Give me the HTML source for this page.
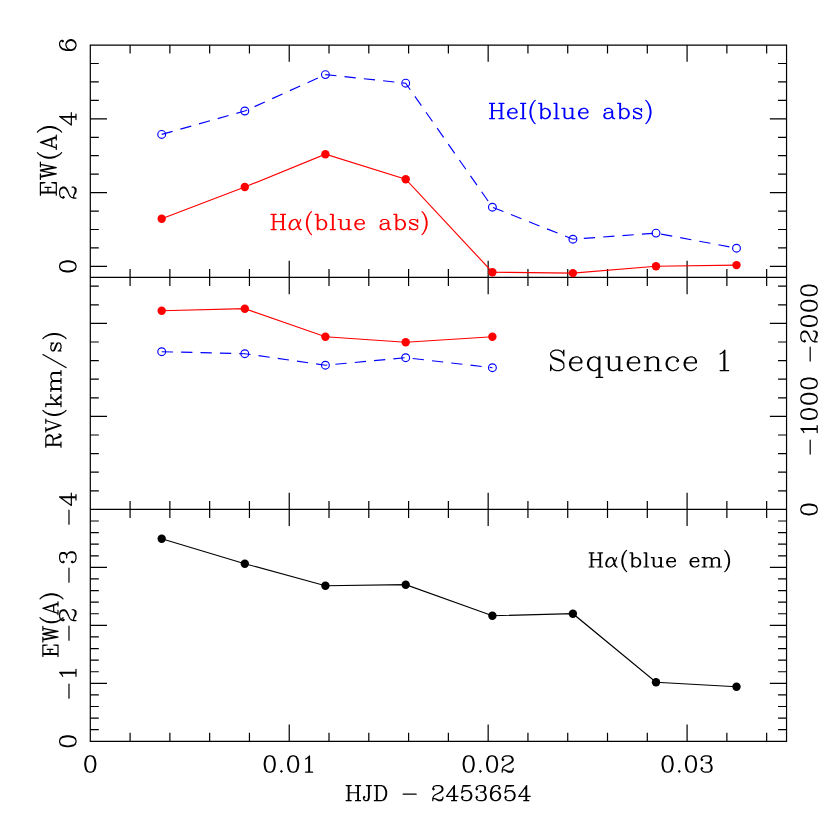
<!DOCTYPE html>
<html><head><meta charset="utf-8"><title>Sequence 1</title>
<style>html,body{margin:0;padding:0;background:#fff;font-family:"Liberation Serif",serif}svg{display:block}</style>
</head><body>
<svg width="830" height="830" viewBox="0 0 830 830">
<rect width="830" height="830" fill="#fff"/>
<path d="M90.30 45.05H786.55V741.30H90.30ZM90.30 277.45H786.55M90.30 509.40H786.55M130.09 45.05v8.50M130.09 268.95v17.00M130.09 500.90v17.00M130.09 741.30v-8.50M169.87 45.05v8.50M169.87 268.95v17.00M169.87 500.90v17.00M169.87 741.30v-8.50M209.66 45.05v8.50M209.66 268.95v17.00M209.66 500.90v17.00M209.66 741.30v-8.50M249.44 45.05v8.50M249.44 268.95v17.00M249.44 500.90v17.00M249.44 741.30v-8.50M289.23 45.05v16.70M289.23 260.75v33.40M289.23 492.70v33.40M289.23 741.30v-16.70M329.01 45.05v8.50M329.01 268.95v17.00M329.01 500.90v17.00M329.01 741.30v-8.50M368.80 45.05v8.50M368.80 268.95v17.00M368.80 500.90v17.00M368.80 741.30v-8.50M408.59 45.05v8.50M408.59 268.95v17.00M408.59 500.90v17.00M408.59 741.30v-8.50M448.37 45.05v8.50M448.37 268.95v17.00M448.37 500.90v17.00M448.37 741.30v-8.50M488.16 45.05v16.70M488.16 260.75v33.40M488.16 492.70v33.40M488.16 741.30v-16.70M527.94 45.05v8.50M527.94 268.95v17.00M527.94 500.90v17.00M527.94 741.30v-8.50M567.73 45.05v8.50M567.73 268.95v17.00M567.73 500.90v17.00M567.73 741.30v-8.50M607.51 45.05v8.50M607.51 268.95v17.00M607.51 500.90v17.00M607.51 741.30v-8.50M647.30 45.05v8.50M647.30 268.95v17.00M647.30 500.90v17.00M647.30 741.30v-8.50M687.09 45.05v16.70M687.09 260.75v33.40M687.09 492.70v33.40M687.09 741.30v-16.70M726.87 45.05v8.50M726.87 268.95v17.00M726.87 500.90v17.00M726.87 741.30v-8.50M766.66 45.05v8.50M766.66 268.95v17.00M766.66 500.90v17.00M766.66 741.30v-8.50M90.30 266.40h16.70M786.55 266.40h-16.70M90.30 247.95h8.50M786.55 247.95h-8.50M90.30 229.51h8.50M786.55 229.51h-8.50M90.30 211.06h8.50M786.55 211.06h-8.50M90.30 192.62h16.70M786.55 192.62h-16.70M90.30 174.17h8.50M786.55 174.17h-8.50M90.30 155.72h8.50M786.55 155.72h-8.50M90.30 137.28h8.50M786.55 137.28h-8.50M90.30 118.83h16.70M786.55 118.83h-16.70M90.30 100.39h8.50M786.55 100.39h-8.50M90.30 81.94h8.50M786.55 81.94h-8.50M90.30 63.50h8.50M786.55 63.50h-8.50M90.30 490.80h8.50M786.55 490.80h-8.50M90.30 472.20h8.50M786.55 472.20h-8.50M90.30 453.60h8.50M786.55 453.60h-8.50M90.30 435.00h8.50M786.55 435.00h-8.50M90.30 416.40h16.70M786.55 416.40h-16.70M90.30 397.80h8.50M786.55 397.80h-8.50M90.30 379.20h8.50M786.55 379.20h-8.50M90.30 360.60h8.50M786.55 360.60h-8.50M90.30 342.00h8.50M786.55 342.00h-8.50M90.30 323.40h16.70M786.55 323.40h-16.70M90.30 304.80h8.50M786.55 304.80h-8.50M90.30 286.20h8.50M786.55 286.20h-8.50M90.30 729.70h8.50M786.55 729.70h-8.50M90.30 718.11h8.50M786.55 718.11h-8.50M90.30 706.51h8.50M786.55 706.51h-8.50M90.30 694.92h8.50M786.55 694.92h-8.50M90.30 683.32h16.70M786.55 683.32h-16.70M90.30 671.73h8.50M786.55 671.73h-8.50M90.30 660.13h8.50M786.55 660.13h-8.50M90.30 648.54h8.50M786.55 648.54h-8.50M90.30 636.94h8.50M786.55 636.94h-8.50M90.30 625.35h16.70M786.55 625.35h-16.70M90.30 613.75h8.50M786.55 613.75h-8.50M90.30 602.16h8.50M786.55 602.16h-8.50M90.30 590.56h8.50M786.55 590.56h-8.50M90.30 578.97h8.50M786.55 578.97h-8.50M90.30 567.38h16.70M786.55 567.38h-16.70M90.30 555.78h8.50M786.55 555.78h-8.50M90.30 544.18h8.50M786.55 544.18h-8.50M90.30 532.59h8.50M786.55 532.59h-8.50M90.30 520.99h8.50M786.55 520.99h-8.50" fill="none" stroke="#000" stroke-width="1.20" stroke-linecap="butt" stroke-linejoin="miter"/>
<polyline points="161.70,134.40 244.80,111.00 325.40,74.60 405.70,83.20 492.40,207.20 572.90,239.20 656.00,233.10 736.50,248.20" fill="none" stroke="#00f" stroke-width="1.15" stroke-dasharray="11.3 8.1" stroke-dashoffset="0"/>
<circle cx="161.70" cy="134.40" r="3.9" fill="none" stroke="#00f" stroke-width="1.15"/>
<circle cx="244.80" cy="111.00" r="3.9" fill="none" stroke="#00f" stroke-width="1.15"/>
<circle cx="325.40" cy="74.60" r="3.9" fill="none" stroke="#00f" stroke-width="1.15"/>
<circle cx="405.70" cy="83.20" r="3.9" fill="none" stroke="#00f" stroke-width="1.15"/>
<circle cx="492.40" cy="207.20" r="3.9" fill="none" stroke="#00f" stroke-width="1.15"/>
<circle cx="572.90" cy="239.20" r="3.9" fill="none" stroke="#00f" stroke-width="1.15"/>
<circle cx="656.00" cy="233.10" r="3.9" fill="none" stroke="#00f" stroke-width="1.15"/>
<circle cx="736.50" cy="248.20" r="3.9" fill="none" stroke="#00f" stroke-width="1.15"/>
<polyline points="161.70,218.70 244.80,187.00 325.40,154.20 405.70,179.20 492.40,272.20 572.90,273.10 656.00,266.30 736.50,265.10" fill="none" stroke="#f00" stroke-width="1.15"/>
<circle cx="161.70" cy="218.70" r="4.2" fill="#f00"/>
<circle cx="244.80" cy="187.00" r="4.2" fill="#f00"/>
<circle cx="325.40" cy="154.20" r="4.2" fill="#f00"/>
<circle cx="405.70" cy="179.20" r="4.2" fill="#f00"/>
<circle cx="492.40" cy="272.20" r="4.2" fill="#f00"/>
<circle cx="572.90" cy="273.10" r="4.2" fill="#f00"/>
<circle cx="656.00" cy="266.30" r="4.2" fill="#f00"/>
<circle cx="736.50" cy="265.10" r="4.2" fill="#f00"/>
<polyline points="161.70,310.70 244.80,308.70 325.40,336.70 405.70,342.20 492.40,336.70" fill="none" stroke="#f00" stroke-width="1.15"/>
<circle cx="161.70" cy="310.70" r="4.2" fill="#f00"/>
<circle cx="244.80" cy="308.70" r="4.2" fill="#f00"/>
<circle cx="325.40" cy="336.70" r="4.2" fill="#f00"/>
<circle cx="405.70" cy="342.20" r="4.2" fill="#f00"/>
<circle cx="492.40" cy="336.70" r="4.2" fill="#f00"/>
<polyline points="161.70,351.70 244.80,353.70 325.40,365.20 405.70,357.70 492.40,367.70" fill="none" stroke="#00f" stroke-width="1.15" stroke-dasharray="11.3 8.1" stroke-dashoffset="0"/>
<circle cx="161.70" cy="351.70" r="3.9" fill="none" stroke="#00f" stroke-width="1.15"/>
<circle cx="244.80" cy="353.70" r="3.9" fill="none" stroke="#00f" stroke-width="1.15"/>
<circle cx="325.40" cy="365.20" r="3.9" fill="none" stroke="#00f" stroke-width="1.15"/>
<circle cx="405.70" cy="357.70" r="3.9" fill="none" stroke="#00f" stroke-width="1.15"/>
<circle cx="492.40" cy="367.70" r="3.9" fill="none" stroke="#00f" stroke-width="1.15"/>
<polyline points="161.70,538.70 244.80,563.70 325.40,585.70 405.70,584.70 492.40,615.70 572.90,613.70 656.00,682.20 736.50,686.70" fill="none" stroke="#000" stroke-width="1.15"/>
<circle cx="161.70" cy="538.70" r="4.2" fill="#000"/>
<circle cx="244.80" cy="563.70" r="4.2" fill="#000"/>
<circle cx="325.40" cy="585.70" r="4.2" fill="#000"/>
<circle cx="405.70" cy="584.70" r="4.2" fill="#000"/>
<circle cx="492.40" cy="615.70" r="4.2" fill="#000"/>
<circle cx="572.90" cy="613.70" r="4.2" fill="#000"/>
<circle cx="656.00" cy="682.20" r="4.2" fill="#000"/>
<circle cx="736.50" cy="686.70" r="4.2" fill="#000"/>
<path d="M89.52 755.82L87.18 756.60L85.62 758.94L84.84 762.84L84.84 765.18L85.62 769.08L87.18 771.42L89.52 772.20L91.08 772.20L93.42 771.42L94.98 769.08L95.76 765.18L95.76 762.84L94.98 758.94L93.42 756.60L91.08 755.82L89.52 755.82M89.52 755.82L87.96 756.60L87.18 757.38L86.40 758.94L85.62 762.84L85.62 765.18L86.40 769.08L87.18 770.64L87.96 771.42L89.52 772.20M91.08 772.20L92.64 771.42L93.42 770.64L94.20 769.08L94.98 765.18L94.98 762.84L94.20 758.94L93.42 757.38L92.64 756.60L91.08 755.82" fill="none" stroke="#000" stroke-width="1.20" stroke-linecap="round" stroke-linejoin="round"/>
<path d="M268.95 755.82L266.61 756.60L265.05 758.94L264.27 762.84L264.27 765.18L265.05 769.08L266.61 771.42L268.95 772.20L270.51 772.20L272.85 771.42L274.41 769.08L275.19 765.18L275.19 762.84L274.41 758.94L272.85 756.60L270.51 755.82L268.95 755.82M268.95 755.82L267.39 756.60L266.61 757.38L265.83 758.94L265.05 762.84L265.05 765.18L265.83 769.08L266.61 770.64L267.39 771.42L268.95 772.20M270.51 772.20L272.07 771.42L272.85 770.64L273.63 769.08L274.41 765.18L274.41 762.84L273.63 758.94L272.85 757.38L272.07 756.60L270.51 755.82M281.43 770.64L280.65 771.42L281.43 772.20L282.21 771.42L281.43 770.64M292.35 755.82L290.01 756.60L288.45 758.94L287.67 762.84L287.67 765.18L288.45 769.08L290.01 771.42L292.35 772.20L293.91 772.20L296.25 771.42L297.81 769.08L298.59 765.18L298.59 762.84L297.81 758.94L296.25 756.60L293.91 755.82L292.35 755.82M292.35 755.82L290.79 756.60L290.01 757.38L289.23 758.94L288.45 762.84L288.45 765.18L289.23 769.08L290.01 770.64L290.79 771.42L292.35 772.20M293.91 772.20L295.47 771.42L296.25 770.64L297.03 769.08L297.81 765.18L297.81 762.84L297.03 758.94L296.25 757.38L295.47 756.60L293.91 755.82M305.61 758.94L307.17 758.16L309.51 755.82L309.51 772.20M308.73 756.60L308.73 772.20M305.61 772.20L312.63 772.20" fill="none" stroke="#000" stroke-width="1.20" stroke-linecap="round" stroke-linejoin="round"/>
<path d="M467.88 755.82L465.54 756.60L463.98 758.94L463.20 762.84L463.20 765.18L463.98 769.08L465.54 771.42L467.88 772.20L469.44 772.20L471.78 771.42L473.34 769.08L474.12 765.18L474.12 762.84L473.34 758.94L471.78 756.60L469.44 755.82L467.88 755.82M467.88 755.82L466.32 756.60L465.54 757.38L464.76 758.94L463.98 762.84L463.98 765.18L464.76 769.08L465.54 770.64L466.32 771.42L467.88 772.20M469.44 772.20L471.00 771.42L471.78 770.64L472.56 769.08L473.34 765.18L473.34 762.84L472.56 758.94L471.78 757.38L471.00 756.60L469.44 755.82M480.36 770.64L479.58 771.42L480.36 772.20L481.14 771.42L480.36 770.64M491.28 755.82L488.94 756.60L487.38 758.94L486.60 762.84L486.60 765.18L487.38 769.08L488.94 771.42L491.28 772.20L492.84 772.20L495.18 771.42L496.74 769.08L497.52 765.18L497.52 762.84L496.74 758.94L495.18 756.60L492.84 755.82L491.28 755.82M491.28 755.82L489.72 756.60L488.94 757.38L488.16 758.94L487.38 762.84L487.38 765.18L488.16 769.08L488.94 770.64L489.72 771.42L491.28 772.20M492.84 772.20L494.40 771.42L495.18 770.64L495.96 769.08L496.74 765.18L496.74 762.84L495.96 758.94L495.18 757.38L494.40 756.60L492.84 755.82M502.98 758.94L503.76 759.72L502.98 760.50L502.20 759.72L502.20 758.94L502.98 757.38L503.76 756.60L506.10 755.82L509.22 755.82L511.56 756.60L512.34 757.38L513.12 758.94L513.12 760.50L512.34 762.06L510.00 763.62L506.10 765.18L504.54 765.96L502.98 767.52L502.20 769.86L502.20 772.20M509.22 755.82L510.78 756.60L511.56 757.38L512.34 758.94L512.34 760.50L511.56 762.06L509.22 763.62L506.10 765.18M502.20 770.64L502.98 769.86L504.54 769.86L508.44 771.42L510.78 771.42L512.34 770.64L513.12 769.86M504.54 769.86L508.44 772.20L511.56 772.20L512.34 771.42L513.12 769.86L513.12 768.30" fill="none" stroke="#000" stroke-width="1.20" stroke-linecap="round" stroke-linejoin="round"/>
<path d="M666.81 755.82L664.47 756.60L662.91 758.94L662.13 762.84L662.13 765.18L662.91 769.08L664.47 771.42L666.81 772.20L668.37 772.20L670.71 771.42L672.27 769.08L673.05 765.18L673.05 762.84L672.27 758.94L670.71 756.60L668.37 755.82L666.81 755.82M666.81 755.82L665.25 756.60L664.47 757.38L663.69 758.94L662.91 762.84L662.91 765.18L663.69 769.08L664.47 770.64L665.25 771.42L666.81 772.20M668.37 772.20L669.93 771.42L670.71 770.64L671.49 769.08L672.27 765.18L672.27 762.84L671.49 758.94L670.71 757.38L669.93 756.60L668.37 755.82M679.29 770.64L678.51 771.42L679.29 772.20L680.07 771.42L679.29 770.64M690.21 755.82L687.87 756.60L686.31 758.94L685.53 762.84L685.53 765.18L686.31 769.08L687.87 771.42L690.21 772.20L691.77 772.20L694.11 771.42L695.67 769.08L696.45 765.18L696.45 762.84L695.67 758.94L694.11 756.60L691.77 755.82L690.21 755.82M690.21 755.82L688.65 756.60L687.87 757.38L687.09 758.94L686.31 762.84L686.31 765.18L687.09 769.08L687.87 770.64L688.65 771.42L690.21 772.20M691.77 772.20L693.33 771.42L694.11 770.64L694.89 769.08L695.67 765.18L695.67 762.84L694.89 758.94L694.11 757.38L693.33 756.60L691.77 755.82M701.91 758.94L702.69 759.72L701.91 760.50L701.13 759.72L701.13 758.94L701.91 757.38L702.69 756.60L705.03 755.82L708.15 755.82L710.49 756.60L711.27 758.16L711.27 760.50L710.49 762.06L708.15 762.84L705.81 762.84M708.15 755.82L709.71 756.60L710.49 758.16L710.49 760.50L709.71 762.06L708.15 762.84M708.15 762.84L709.71 763.62L711.27 765.18L712.05 766.74L712.05 769.08L711.27 770.64L710.49 771.42L708.15 772.20L705.03 772.20L702.69 771.42L701.91 770.64L701.13 769.08L701.13 768.30L701.91 767.52L702.69 768.30L701.91 769.08M710.49 764.40L711.27 766.74L711.27 769.08L710.49 770.64L709.71 771.42L708.15 772.20" fill="none" stroke="#000" stroke-width="1.20" stroke-linecap="round" stroke-linejoin="round"/>
<path d="M348.31 785.54L348.31 800.70M349.03 785.54L349.03 800.70M357.70 785.54L357.70 800.70M358.42 785.54L358.42 800.70M346.14 785.54L351.20 785.54M355.53 785.54L360.58 785.54M349.03 792.76L357.70 792.76M346.14 800.70L351.20 800.70M355.53 800.70L360.58 800.70M369.25 785.54L369.25 797.81L368.53 799.98L367.08 800.70L365.64 800.70L364.19 799.98L363.47 798.53L363.47 797.09L364.19 796.37L364.92 797.09L364.19 797.81M368.53 785.54L368.53 797.81L367.81 799.98L367.08 800.70M366.36 785.54L371.41 785.54M376.47 785.54L376.47 800.70M377.19 785.54L377.19 800.70M374.30 785.54L381.52 785.54L383.69 786.26L385.13 787.70L385.86 789.15L386.58 791.31L386.58 794.92L385.86 797.09L385.13 798.53L383.69 799.98L381.52 800.70L374.30 800.70M381.52 785.54L382.97 786.26L384.41 787.70L385.13 789.15L385.86 791.31L385.86 794.92L385.13 797.09L384.41 798.53L382.97 799.98L381.52 800.70M403.18 794.20L416.18 794.20M433.51 788.43L434.23 789.15L433.51 789.87L432.78 789.15L432.78 788.43L433.51 786.98L434.23 786.26L436.39 785.54L439.28 785.54L441.45 786.26L442.17 786.98L442.89 788.43L442.89 789.87L442.17 791.31L440.00 792.76L436.39 794.20L434.95 794.92L433.51 796.37L432.78 798.53L432.78 800.70M439.28 785.54L440.73 786.26L441.45 786.98L442.17 788.43L442.17 789.87L441.45 791.31L439.28 792.76L436.39 794.20M432.78 799.26L433.51 798.53L434.95 798.53L438.56 799.98L440.73 799.98L442.17 799.26L442.89 798.53M434.95 798.53L438.56 800.70L441.45 800.70L442.17 799.98L442.89 798.53L442.89 797.09M453.72 786.98L453.72 800.70M454.44 785.54L454.44 800.70M454.44 785.54L446.50 796.37L458.06 796.37M451.56 800.70L456.61 800.70M463.11 785.54L461.66 792.76M461.66 792.76L463.11 791.31L465.27 790.59L467.44 790.59L469.61 791.31L471.05 792.76L471.77 794.92L471.77 796.37L471.05 798.53L469.61 799.98L467.44 800.70L465.27 800.70L463.11 799.98L462.39 799.26L461.66 797.81L461.66 797.09L462.39 796.37L463.11 797.09L462.39 797.81M467.44 790.59L468.88 791.31L470.33 792.76L471.05 794.92L471.05 796.37L470.33 798.53L468.88 799.98L467.44 800.70M463.11 785.54L470.33 785.54M463.11 786.26L466.72 786.26L470.33 785.54M476.83 788.43L477.55 789.15L476.83 789.87L476.11 789.15L476.11 788.43L476.83 786.98L477.55 786.26L479.71 785.54L482.60 785.54L484.77 786.26L485.49 787.70L485.49 789.87L484.77 791.31L482.60 792.04L480.44 792.04M482.60 785.54L484.05 786.26L484.77 787.70L484.77 789.87L484.05 791.31L482.60 792.04M482.60 792.04L484.05 792.76L485.49 794.20L486.21 795.65L486.21 797.81L485.49 799.26L484.77 799.98L482.60 800.70L479.71 800.70L477.55 799.98L476.83 799.26L476.11 797.81L476.11 797.09L476.83 796.37L477.55 797.09L476.83 797.81M484.77 793.48L485.49 795.65L485.49 797.81L484.77 799.26L484.05 799.98L482.60 800.70M499.21 787.70L498.49 788.43L499.21 789.15L499.93 788.43L499.93 787.70L499.21 786.26L497.76 785.54L495.60 785.54L493.43 786.26L491.99 787.70L491.27 789.15L490.54 792.04L490.54 796.37L491.27 798.53L492.71 799.98L494.88 800.70L496.32 800.70L498.49 799.98L499.93 798.53L500.65 796.37L500.65 795.65L499.93 793.48L498.49 792.04L496.32 791.31L495.60 791.31L493.43 792.04L491.99 793.48L491.27 795.65M495.60 785.54L494.15 786.26L492.71 787.70L491.99 789.15L491.27 792.04L491.27 796.37L491.99 798.53L493.43 799.98L494.88 800.70M496.32 800.70L497.76 799.98L499.21 798.53L499.93 796.37L499.93 795.65L499.21 793.48L497.76 792.04L496.32 791.31M506.43 785.54L504.99 792.76M504.99 792.76L506.43 791.31L508.59 790.59L510.76 790.59L512.93 791.31L514.37 792.76L515.09 794.92L515.09 796.37L514.37 798.53L512.93 799.98L510.76 800.70L508.59 800.70L506.43 799.98L505.71 799.26L504.99 797.81L504.99 797.09L505.71 796.37L506.43 797.09L505.71 797.81M510.76 790.59L512.20 791.31L513.65 792.76L514.37 794.92L514.37 796.37L513.65 798.53L512.20 799.98L510.76 800.70M506.43 785.54L513.65 785.54M506.43 786.26L510.04 786.26L513.65 785.54M525.92 786.98L525.92 800.70M526.64 785.54L526.64 800.70M526.64 785.54L518.70 796.37L530.25 796.37M523.76 800.70L528.81 800.70" fill="none" stroke="#000" stroke-width="1.20" stroke-linecap="round" stroke-linejoin="round"/>
<path d="M61.96 41.15L62.74 41.93L63.52 41.15L62.74 40.37L61.96 40.37L60.40 41.15L59.62 42.71L59.62 45.05L60.40 47.39L61.96 48.95L63.52 49.73L66.64 50.51L71.32 50.51L73.66 49.73L75.22 48.17L76.00 45.83L76.00 44.27L75.22 41.93L73.66 40.37L71.32 39.59L70.54 39.59L68.20 40.37L66.64 41.93L65.86 44.27L65.86 45.05L66.64 47.39L68.20 48.95L70.54 49.73M59.62 45.05L60.40 46.61L61.96 48.17L63.52 48.95L66.64 49.73L71.32 49.73L73.66 48.95L75.22 47.39L76.00 45.83M76.00 44.27L75.22 42.71L73.66 41.15L71.32 40.37L70.54 40.37L68.20 41.15L66.64 42.71L65.86 44.27" fill="none" stroke="#000" stroke-width="1.20" stroke-linecap="round" stroke-linejoin="round"/>
<path d="M61.18 117.27L76.00 117.27M59.62 116.49L76.00 116.49M59.62 116.49L71.32 125.07L71.32 112.59M76.00 119.61L76.00 114.15" fill="none" stroke="#000" stroke-width="1.20" stroke-linecap="round" stroke-linejoin="round"/>
<path d="M62.74 197.30L63.52 196.52L64.30 197.30L63.52 198.08L62.74 198.08L61.18 197.30L60.40 196.52L59.62 194.18L59.62 191.06L60.40 188.72L61.18 187.94L62.74 187.16L64.30 187.16L65.86 187.94L67.42 190.28L68.98 194.18L69.76 195.74L71.32 197.30L73.66 198.08L76.00 198.08M59.62 191.06L60.40 189.50L61.18 188.72L62.74 187.94L64.30 187.94L65.86 188.72L67.42 191.06L68.98 194.18M74.44 198.08L73.66 197.30L73.66 195.74L75.22 191.84L75.22 189.50L74.44 187.94L73.66 187.16M73.66 195.74L76.00 191.84L76.00 188.72L75.22 187.94L73.66 187.16L72.10 187.16" fill="none" stroke="#000" stroke-width="1.20" stroke-linecap="round" stroke-linejoin="round"/>
<path d="M59.62 267.18L60.40 269.52L62.74 271.08L66.64 271.86L68.98 271.86L72.88 271.08L75.22 269.52L76.00 267.18L76.00 265.62L75.22 263.28L72.88 261.72L68.98 260.94L66.64 260.94L62.74 261.72L60.40 263.28L59.62 265.62L59.62 267.18M59.62 267.18L60.40 268.74L61.18 269.52L62.74 270.30L66.64 271.08L68.98 271.08L72.88 270.30L74.44 269.52L75.22 268.74L76.00 267.18M76.00 265.62L75.22 264.06L74.44 263.28L72.88 262.50L68.98 261.72L66.64 261.72L62.74 262.50L61.18 263.28L60.40 264.06L59.62 265.62" fill="none" stroke="#000" stroke-width="1.20" stroke-linecap="round" stroke-linejoin="round"/>
<path d="M68.98 524.22L68.98 510.18M61.18 497.70L76.00 497.70M59.62 496.92L76.00 496.92M59.62 496.92L71.32 505.50L71.32 493.02M76.00 500.04L76.00 494.58" fill="none" stroke="#000" stroke-width="1.20" stroke-linecap="round" stroke-linejoin="round"/>
<path d="M68.98 582.20L68.98 568.15M62.74 561.91L63.52 561.13L64.30 561.91L63.52 562.70L62.74 562.70L61.18 561.91L60.40 561.13L59.62 558.79L59.62 555.67L60.40 553.34L61.96 552.55L64.30 552.55L65.86 553.34L66.64 555.67L66.64 558.01M59.62 555.67L60.40 554.12L61.96 553.34L64.30 553.34L65.86 554.12L66.64 555.67M66.64 555.67L67.42 554.12L68.98 552.55L70.54 551.77L72.88 551.77L74.44 552.55L75.22 553.34L76.00 555.67L76.00 558.79L75.22 561.13L74.44 561.91L72.88 562.70L72.10 562.70L71.32 561.91L72.10 561.13L72.88 561.91M68.20 553.34L70.54 552.55L72.88 552.55L74.44 553.34L75.22 554.12L76.00 555.67" fill="none" stroke="#000" stroke-width="1.20" stroke-linecap="round" stroke-linejoin="round"/>
<path d="M68.98 640.17L68.98 626.13M62.74 619.89L63.52 619.11L64.30 619.89L63.52 620.67L62.74 620.67L61.18 619.89L60.40 619.11L59.62 616.77L59.62 613.65L60.40 611.31L61.18 610.53L62.74 609.75L64.30 609.75L65.86 610.53L67.42 612.87L68.98 616.77L69.76 618.33L71.32 619.89L73.66 620.67L76.00 620.67M59.62 613.65L60.40 612.09L61.18 611.31L62.74 610.53L64.30 610.53L65.86 611.31L67.42 613.65L68.98 616.77M74.44 620.67L73.66 619.89L73.66 618.33L75.22 614.43L75.22 612.09L74.44 610.53L73.66 609.75M73.66 618.33L76.00 614.43L76.00 611.31L75.22 610.53L73.66 609.75L72.10 609.75" fill="none" stroke="#000" stroke-width="1.20" stroke-linecap="round" stroke-linejoin="round"/>
<path d="M68.98 698.14L68.98 684.10M62.74 676.30L61.96 674.74L59.62 672.40L76.00 672.40M60.40 673.18L76.00 673.18M76.00 676.30L76.00 669.28" fill="none" stroke="#000" stroke-width="1.20" stroke-linecap="round" stroke-linejoin="round"/>
<path d="M59.62 742.08L60.40 744.42L62.74 745.98L66.64 746.76L68.98 746.76L72.88 745.98L75.22 744.42L76.00 742.08L76.00 740.52L75.22 738.18L72.88 736.62L68.98 735.84L66.64 735.84L62.74 736.62L60.40 738.18L59.62 740.52L59.62 742.08M59.62 742.08L60.40 743.64L61.18 744.42L62.74 745.20L66.64 745.98L68.98 745.98L72.88 745.20L74.44 744.42L75.22 743.64L76.00 742.08M76.00 740.52L75.22 738.96L74.44 738.18L72.88 737.40L68.98 736.62L66.64 736.62L62.74 737.40L61.18 738.18L60.40 738.96L59.62 740.52" fill="none" stroke="#000" stroke-width="1.20" stroke-linecap="round" stroke-linejoin="round"/>
<path d="M810.18 361.03L810.18 347.21M803.94 341.06L804.72 340.30L805.50 341.06L804.72 341.83L803.94 341.83L802.38 341.06L801.60 340.30L800.82 337.99L800.82 334.92L801.60 332.62L802.38 331.85L803.94 331.08L805.50 331.08L807.06 331.85L808.62 334.15L810.18 337.99L810.96 339.53L812.52 341.06L814.86 341.83L817.20 341.83M800.82 334.92L801.60 333.38L802.38 332.62L803.94 331.85L805.50 331.85L807.06 332.62L808.62 334.92L810.18 337.99M815.64 341.83L814.86 341.06L814.86 339.53L816.42 335.69L816.42 333.38L815.64 331.85L814.86 331.08M814.86 339.53L817.20 335.69L817.20 332.62L816.42 331.85L814.86 331.08L813.30 331.08M800.82 321.86L801.60 324.17L803.94 325.70L807.84 326.47L810.18 326.47L814.08 325.70L816.42 324.17L817.20 321.86L817.20 320.33L816.42 318.02L814.08 316.49L810.18 315.72L807.84 315.72L803.94 316.49L801.60 318.02L800.82 320.33L800.82 321.86M800.82 321.86L801.60 323.40L802.38 324.17L803.94 324.94L807.84 325.70L810.18 325.70L814.08 324.94L815.64 324.17L816.42 323.40L817.20 321.86M817.20 320.33L816.42 318.79L815.64 318.02L814.08 317.26L810.18 316.49L807.84 316.49L803.94 317.26L802.38 318.02L801.60 318.79L800.82 320.33M800.82 306.50L801.60 308.81L803.94 310.34L807.84 311.11L810.18 311.11L814.08 310.34L816.42 308.81L817.20 306.50L817.20 304.97L816.42 302.66L814.08 301.13L810.18 300.36L807.84 300.36L803.94 301.13L801.60 302.66L800.82 304.97L800.82 306.50M800.82 306.50L801.60 308.04L802.38 308.81L803.94 309.58L807.84 310.34L810.18 310.34L814.08 309.58L815.64 308.81L816.42 308.04L817.20 306.50M817.20 304.97L816.42 303.43L815.64 302.66L814.08 301.90L810.18 301.13L807.84 301.13L803.94 301.90L802.38 302.66L801.60 303.43L800.82 304.97M800.82 291.14L801.60 293.45L803.94 294.98L807.84 295.75L810.18 295.75L814.08 294.98L816.42 293.45L817.20 291.14L817.20 289.61L816.42 287.30L814.08 285.77L810.18 285.00L807.84 285.00L803.94 285.77L801.60 287.30L800.82 289.61L800.82 291.14M800.82 291.14L801.60 292.68L802.38 293.45L803.94 294.22L807.84 294.98L810.18 294.98L814.08 294.22L815.64 293.45L816.42 292.68L817.20 291.14M817.20 289.61L816.42 288.07L815.64 287.30L814.08 286.54L810.18 285.77L807.84 285.77L803.94 286.54L802.38 287.30L801.60 288.07L800.82 289.61" fill="none" stroke="#000" stroke-width="1.20" stroke-linecap="round" stroke-linejoin="round"/>
<path d="M810.18 454.03L810.18 440.21M803.94 432.53L803.16 430.99L800.82 428.69L817.20 428.69M801.60 429.46L817.20 429.46M817.20 432.53L817.20 425.62M800.82 414.86L801.60 417.17L803.94 418.70L807.84 419.47L810.18 419.47L814.08 418.70L816.42 417.17L817.20 414.86L817.20 413.33L816.42 411.02L814.08 409.49L810.18 408.72L807.84 408.72L803.94 409.49L801.60 411.02L800.82 413.33L800.82 414.86M800.82 414.86L801.60 416.40L802.38 417.17L803.94 417.94L807.84 418.70L810.18 418.70L814.08 417.94L815.64 417.17L816.42 416.40L817.20 414.86M817.20 413.33L816.42 411.79L815.64 411.02L814.08 410.26L810.18 409.49L807.84 409.49L803.94 410.26L802.38 411.02L801.60 411.79L800.82 413.33M800.82 399.50L801.60 401.81L803.94 403.34L807.84 404.11L810.18 404.11L814.08 403.34L816.42 401.81L817.20 399.50L817.20 397.97L816.42 395.66L814.08 394.13L810.18 393.36L807.84 393.36L803.94 394.13L801.60 395.66L800.82 397.97L800.82 399.50M800.82 399.50L801.60 401.04L802.38 401.81L803.94 402.58L807.84 403.34L810.18 403.34L814.08 402.58L815.64 401.81L816.42 401.04L817.20 399.50M817.20 397.97L816.42 396.43L815.64 395.66L814.08 394.90L810.18 394.13L807.84 394.13L803.94 394.90L802.38 395.66L801.60 396.43L800.82 397.97M800.82 384.14L801.60 386.45L803.94 387.98L807.84 388.75L810.18 388.75L814.08 387.98L816.42 386.45L817.20 384.14L817.20 382.61L816.42 380.30L814.08 378.77L810.18 378.00L807.84 378.00L803.94 378.77L801.60 380.30L800.82 382.61L800.82 384.14M800.82 384.14L801.60 385.68L802.38 386.45L803.94 387.22L807.84 387.98L810.18 387.98L814.08 387.22L815.64 386.45L816.42 385.68L817.20 384.14M817.20 382.61L816.42 381.07L815.64 380.30L814.08 379.54L810.18 378.77L807.84 378.77L803.94 379.54L802.38 380.30L801.60 381.07L800.82 382.61" fill="none" stroke="#000" stroke-width="1.20" stroke-linecap="round" stroke-linejoin="round"/>
<path d="M800.82 510.17L801.60 512.47L803.94 514.01L807.84 514.78L810.18 514.78L814.08 514.01L816.42 512.47L817.20 510.17L817.20 508.63L816.42 506.33L814.08 504.79L810.18 504.02L807.84 504.02L803.94 504.79L801.60 506.33L800.82 508.63L800.82 510.17M800.82 510.17L801.60 511.70L802.38 512.47L803.94 513.24L807.84 514.01L810.18 514.01L814.08 513.24L815.64 512.47L816.42 511.70L817.20 510.17M817.20 508.63L816.42 507.10L815.64 506.33L814.08 505.56L810.18 504.79L807.84 504.79L803.94 505.56L802.38 506.33L801.60 507.10L800.82 508.63" fill="none" stroke="#000" stroke-width="1.20" stroke-linecap="round" stroke-linejoin="round"/>
<path d="M40.40 192.90L56.30 192.90M40.40 192.11L56.30 192.11M44.94 187.37L51.00 187.37M40.40 195.27L40.40 182.62L44.94 182.62L40.40 183.42M47.97 192.11L47.97 187.37M56.30 195.27L56.30 182.62L51.76 182.62L56.30 183.42M40.40 177.09L56.30 173.94M40.40 176.31L52.52 173.94M40.40 170.78L56.30 173.94M40.40 170.78L56.30 167.62M40.40 169.99L52.52 167.62M40.40 164.46L56.30 167.62M40.40 179.47L40.40 173.94M40.40 166.83L40.40 162.09M37.38 152.61L38.89 154.19L41.16 155.77L44.19 157.34L47.97 158.14L51.00 158.14L54.79 157.34L57.81 155.77L60.08 154.19L61.60 152.61M38.89 154.19L41.92 155.77L44.19 156.56L47.97 157.34L51.00 157.34L54.79 156.56L57.06 155.77L60.08 154.19M40.40 142.34L56.30 147.87M40.40 142.34L56.30 136.81M42.67 142.34L56.30 137.59M51.76 146.28L51.76 139.18M56.30 149.44L56.30 144.71M56.30 139.97L56.30 135.22M37.38 132.06L38.89 130.49L41.16 128.91L44.19 127.33L47.97 126.53L51.00 126.53L54.79 127.33L57.81 128.91L60.08 130.49L61.60 132.06M38.89 130.49L41.92 128.91L44.19 128.12L47.97 127.33L51.00 127.33L54.79 128.12L57.06 128.91L60.08 130.49" fill="none" stroke="#000" stroke-width="1.20" stroke-linecap="round" stroke-linejoin="round"/>
<path d="M45.80 445.06L61.00 445.06M45.80 444.34L61.00 444.34M45.80 447.23L45.80 438.55L46.52 436.37L47.24 435.65L48.69 434.93L50.14 434.93L51.59 435.65L52.31 436.37L53.04 438.55L53.04 444.34M45.80 438.55L46.52 437.10L47.24 436.37L48.69 435.65L50.14 435.65L51.59 436.37L52.31 437.10L53.04 438.55M61.00 447.23L61.00 442.17M53.04 440.72L53.76 439.27L54.48 438.55L59.55 436.37L60.28 435.65L60.28 434.93L59.55 434.20M53.76 439.27L55.21 438.55L60.28 437.10L61.00 436.37L61.00 434.93L59.55 434.20L58.83 434.20M45.80 430.58L61.00 425.51M45.80 429.86L58.83 425.51M45.80 420.45L61.00 425.51M45.80 432.03L45.80 427.69M45.80 423.34L45.80 419.00M42.90 410.31L44.35 411.76L46.52 413.21L49.42 414.65L53.04 415.38L55.93 415.38L59.55 414.65L62.45 413.21L64.62 411.76L66.07 410.31M44.35 411.76L47.24 413.21L49.42 413.93L53.04 414.65L55.93 414.65L59.55 413.93L61.72 413.21L64.62 411.76M45.80 404.52L61.00 404.52M45.80 403.79L61.00 403.79M50.86 396.55L58.10 403.79M55.21 400.17L61.00 395.83M55.21 400.90L61.00 396.55M45.80 406.69L45.80 403.79M50.86 398.73L50.86 394.38M61.00 406.69L61.00 401.62M61.00 398.73L61.00 394.38M50.86 389.31L61.00 389.31M50.86 388.59L61.00 388.59M53.04 388.59L51.59 387.14L50.86 384.97L50.86 383.52L51.59 381.35L53.04 380.63L61.00 380.63M50.86 383.52L51.59 382.07L53.04 381.35L61.00 381.35M53.04 380.63L51.59 379.18L50.86 377.01L50.86 375.56L51.59 373.39L53.04 372.66L61.00 372.66M50.86 375.56L51.59 374.11L53.04 373.39L61.00 373.39M50.86 391.49L50.86 388.59M61.00 391.49L61.00 386.42M61.00 383.52L61.00 378.45M61.00 375.56L61.00 370.49M42.90 354.56L66.07 367.59M52.31 343.70L50.86 342.98L53.76 342.98L52.31 343.70L51.59 344.43L50.86 345.87L50.86 348.77L51.59 350.22L52.31 350.94L53.76 350.94L54.48 350.22L55.21 348.77L56.66 345.15L57.38 343.70L58.10 342.98M53.04 350.94L53.76 350.22L54.48 348.77L55.93 345.15L56.66 343.70L57.38 342.98L59.55 342.98L60.28 343.70L61.00 345.15L61.00 348.05L60.28 349.49L59.55 350.22L58.10 350.94L61.00 350.94L59.55 350.22M42.90 338.63L44.35 337.19L46.52 335.74L49.42 334.29L53.04 333.57L55.93 333.57L59.55 334.29L62.45 335.74L64.62 337.19L66.07 338.63M44.35 337.19L47.24 335.74L49.42 335.01L53.04 334.29L55.93 334.29L59.55 335.01L61.72 335.74L64.62 337.19" fill="none" stroke="#000" stroke-width="1.20" stroke-linecap="round" stroke-linejoin="round"/>
<path d="M42.88 654.36L58.00 654.36M42.88 653.64L58.00 653.64M47.20 649.32L52.96 649.32M42.88 656.52L42.88 645.00L47.20 645.00L42.88 645.72M50.08 653.64L50.08 649.32M58.00 656.52L58.00 645.00L53.68 645.00L58.00 645.72M42.88 639.96L58.00 637.08M42.88 639.24L54.40 637.08M42.88 634.20L58.00 637.08M42.88 634.20L58.00 631.32M42.88 633.48L54.40 631.32M42.88 628.44L58.00 631.32M42.88 642.12L42.88 637.08M42.88 630.60L42.88 626.28M40.00 617.64L41.44 619.08L43.60 620.52L46.48 621.96L50.08 622.68L52.96 622.68L56.56 621.96L59.44 620.52L61.60 619.08L63.04 617.64M41.44 619.08L44.32 620.52L46.48 621.24L50.08 621.96L52.96 621.96L56.56 621.24L58.72 620.52L61.60 619.08M42.88 608.28L58.00 613.32M42.88 608.28L58.00 603.24M45.04 608.28L58.00 603.96M53.68 611.88L53.68 605.40M58.00 614.76L58.00 610.44M58.00 606.12L58.00 601.80M40.00 598.92L41.44 597.48L43.60 596.04L46.48 594.60L50.08 593.88L52.96 593.88L56.56 594.60L59.44 596.04L61.60 597.48L63.04 598.92M41.44 597.48L44.32 596.04L46.48 595.32L50.08 594.60L52.96 594.60L56.56 595.32L58.72 596.04L61.60 597.48" fill="none" stroke="#000" stroke-width="1.20" stroke-linecap="round" stroke-linejoin="round"/>
<path d="M491.67 103.40L491.67 118.60M492.40 103.40L492.40 118.60M501.08 103.40L501.08 118.60M501.81 103.40L501.81 118.60M489.50 103.40L494.57 103.40M498.91 103.40L503.98 103.40M492.40 110.64L501.08 110.64M489.50 118.60L494.57 118.60M498.91 118.60L503.98 118.60M508.32 112.81L517.01 112.81L517.01 111.36L516.29 109.91L515.56 109.19L514.12 108.46L511.94 108.46L509.77 109.19L508.32 110.64L507.60 112.81L507.60 114.26L508.32 116.43L509.77 117.88L511.94 118.60L513.39 118.60L515.56 117.88L517.01 116.43M516.29 112.81L516.29 110.64L515.56 109.19M511.94 108.46L510.50 109.19L509.05 110.64L508.32 112.81L508.32 114.26L509.05 116.43L510.50 117.88L511.94 118.60M522.80 103.40L522.80 118.60M523.53 103.40L523.53 118.60M520.63 103.40L525.70 103.40M520.63 118.60L525.70 118.60M535.11 100.50L533.66 101.95L532.22 104.12L530.77 107.02L530.04 110.64L530.04 113.53L530.77 117.15L532.22 120.05L533.66 122.22L535.11 123.67M533.66 101.95L532.22 104.84L531.49 107.02L530.77 110.64L530.77 113.53L531.49 117.15L532.22 119.32L533.66 122.22M540.90 103.40L540.90 118.60M541.63 103.40L541.63 118.60M541.63 110.64L543.08 109.19L544.52 108.46L545.97 108.46L548.14 109.19L549.59 110.64L550.32 112.81L550.32 114.26L549.59 116.43L548.14 117.88L545.97 118.60L544.52 118.60L543.08 117.88L541.63 116.43M545.97 108.46L547.42 109.19L548.87 110.64L549.59 112.81L549.59 114.26L548.87 116.43L547.42 117.88L545.97 118.60M538.73 103.40L541.63 103.40M556.11 103.40L556.11 118.60M556.83 103.40L556.83 118.60M553.94 103.40L556.83 103.40M553.94 118.60L559.00 118.60M564.07 108.46L564.07 116.43L564.80 117.88L566.97 118.60L568.42 118.60L570.59 117.88L572.04 116.43M564.80 108.46L564.80 116.43L565.52 117.88L566.97 118.60M572.04 108.46L572.04 118.60M572.76 108.46L572.76 118.60M561.90 108.46L564.80 108.46M569.86 108.46L572.76 108.46M572.04 118.60L574.93 118.60M579.28 112.81L587.96 112.81L587.96 111.36L587.24 109.91L586.52 109.19L585.07 108.46L582.90 108.46L580.72 109.19L579.28 110.64L578.55 112.81L578.55 114.26L579.28 116.43L580.72 117.88L582.90 118.60L584.34 118.60L586.52 117.88L587.96 116.43M587.24 112.81L587.24 110.64L586.52 109.19M582.90 108.46L581.45 109.19L580.00 110.64L579.28 112.81L579.28 114.26L580.00 116.43L581.45 117.88L582.90 118.60M605.34 109.91L605.34 110.64L604.62 110.64L604.62 109.91L605.34 109.19L606.79 108.46L609.68 108.46L611.13 109.19L611.86 109.91L612.58 111.36L612.58 116.43L613.30 117.88L614.03 118.60M611.86 109.91L611.86 116.43L612.58 117.88L614.03 118.60L614.75 118.60M611.86 111.36L611.13 112.08L606.79 112.81L604.62 113.53L603.89 114.98L603.89 116.43L604.62 117.88L606.79 118.60L608.96 118.60L610.41 117.88L611.86 116.43M606.79 112.81L605.34 113.53L604.62 114.98L604.62 116.43L605.34 117.88L606.79 118.60M619.82 103.40L619.82 118.60M620.54 103.40L620.54 118.60M620.54 110.64L621.99 109.19L623.44 108.46L624.89 108.46L627.06 109.19L628.51 110.64L629.23 112.81L629.23 114.26L628.51 116.43L627.06 117.88L624.89 118.60L623.44 118.60L621.99 117.88L620.54 116.43M624.89 108.46L626.34 109.19L627.78 110.64L628.51 112.81L628.51 114.26L627.78 116.43L626.34 117.88L624.89 118.60M617.65 103.40L620.54 103.40M640.82 109.91L641.54 108.46L641.54 111.36L640.82 109.91L640.09 109.19L638.64 108.46L635.75 108.46L634.30 109.19L633.58 109.91L633.58 111.36L634.30 112.08L635.75 112.81L639.37 114.26L640.82 114.98L641.54 115.70M633.58 110.64L634.30 111.36L635.75 112.08L639.37 113.53L640.82 114.26L641.54 114.98L641.54 117.15L640.82 117.88L639.37 118.60L636.47 118.60L635.02 117.88L634.30 117.15L633.58 115.70L633.58 118.60L634.30 117.15M645.88 100.50L647.33 101.95L648.78 104.12L650.23 107.02L650.95 110.64L650.95 113.53L650.23 117.15L648.78 120.05L647.33 122.22L645.88 123.67M647.33 101.95L648.78 104.84L649.50 107.02L650.23 110.64L650.23 113.53L649.50 117.15L648.78 119.32L647.33 122.22" fill="none" stroke="#00f" stroke-width="1.20" stroke-linecap="round" stroke-linejoin="round"/>
<path d="M273.27 214.44L273.27 229.60M273.99 214.44L273.99 229.60M282.65 214.44L282.65 229.60M283.37 214.44L283.37 229.60M271.10 214.44L276.15 214.44M280.49 214.44L285.54 214.44M273.99 221.66L282.65 221.66M271.10 229.60L276.15 229.60M280.49 229.60L285.54 229.60M294.20 219.49L292.04 220.21L290.59 221.66L289.87 223.10L289.15 225.27L289.15 227.43L289.87 228.88L292.04 229.60L293.48 229.60L294.93 228.88L297.09 226.71L298.54 224.55L299.98 221.66L300.70 219.49M294.20 219.49L292.76 220.21L291.32 221.66L290.59 223.10L289.87 225.27L289.87 227.43L290.59 228.88L292.04 229.60M294.20 219.49L295.65 219.49L297.09 220.21L297.81 221.66L299.26 227.43L299.98 228.88L300.70 229.60M295.65 219.49L296.37 220.21L297.09 221.66L298.54 227.43L299.26 228.88L300.70 229.60L301.42 229.60M311.53 211.55L310.09 212.99L308.64 215.16L307.20 218.05L306.48 221.66L306.48 224.55L307.20 228.16L308.64 231.04L310.09 233.21L311.53 234.65M310.09 212.99L308.64 215.88L307.92 218.05L307.20 221.66L307.20 224.55L307.92 228.16L308.64 230.32L310.09 233.21M317.31 214.44L317.31 229.60M318.03 214.44L318.03 229.60M318.03 221.66L319.47 220.21L320.92 219.49L322.36 219.49L324.53 220.21L325.97 221.66L326.69 223.82L326.69 225.27L325.97 227.43L324.53 228.88L322.36 229.60L320.92 229.60L319.47 228.88L318.03 227.43M322.36 219.49L323.81 220.21L325.25 221.66L325.97 223.82L325.97 225.27L325.25 227.43L323.81 228.88L322.36 229.60M315.14 214.44L318.03 214.44M332.47 214.44L332.47 229.60M333.19 214.44L333.19 229.60M330.30 214.44L333.19 214.44M330.30 229.60L335.36 229.60M340.41 219.49L340.41 227.43L341.13 228.88L343.30 229.60L344.74 229.60L346.91 228.88L348.35 227.43M341.13 219.49L341.13 227.43L341.86 228.88L343.30 229.60M348.35 219.49L348.35 229.60M349.08 219.49L349.08 229.60M338.25 219.49L341.13 219.49M346.19 219.49L349.08 219.49M348.35 229.60L351.24 229.60M355.57 223.82L364.24 223.82L364.24 222.38L363.52 220.94L362.79 220.21L361.35 219.49L359.18 219.49L357.02 220.21L355.57 221.66L354.85 223.82L354.85 225.27L355.57 227.43L357.02 228.88L359.18 229.60L360.63 229.60L362.79 228.88L364.24 227.43M363.52 223.82L363.52 221.66L362.79 220.21M359.18 219.49L357.74 220.21L356.30 221.66L355.57 223.82L355.57 225.27L356.30 227.43L357.74 228.88L359.18 229.60M381.57 220.94L381.57 221.66L380.84 221.66L380.84 220.94L381.57 220.21L383.01 219.49L385.90 219.49L387.34 220.21L388.06 220.94L388.79 222.38L388.79 227.43L389.51 228.88L390.23 229.60M388.06 220.94L388.06 227.43L388.79 228.88L390.23 229.60L390.95 229.60M388.06 222.38L387.34 223.10L383.01 223.82L380.84 224.55L380.12 225.99L380.12 227.43L380.84 228.88L383.01 229.60L385.18 229.60L386.62 228.88L388.06 227.43M383.01 223.82L381.57 224.55L380.84 225.99L380.84 227.43L381.57 228.88L383.01 229.60M396.01 214.44L396.01 229.60M396.73 214.44L396.73 229.60M396.73 221.66L398.17 220.21L399.62 219.49L401.06 219.49L403.23 220.21L404.67 221.66L405.39 223.82L405.39 225.27L404.67 227.43L403.23 228.88L401.06 229.60L399.62 229.60L398.17 228.88L396.73 227.43M401.06 219.49L402.50 220.21L403.95 221.66L404.67 223.82L404.67 225.27L403.95 227.43L402.50 228.88L401.06 229.60M393.84 214.44L396.73 214.44M416.94 220.94L417.67 219.49L417.67 222.38L416.94 220.94L416.22 220.21L414.78 219.49L411.89 219.49L410.45 220.21L409.72 220.94L409.72 222.38L410.45 223.10L411.89 223.82L415.50 225.27L416.94 225.99L417.67 226.71M409.72 221.66L410.45 222.38L411.89 223.10L415.50 224.55L416.94 225.27L417.67 225.99L417.67 228.16L416.94 228.88L415.50 229.60L412.61 229.60L411.17 228.88L410.45 228.16L409.72 226.71L409.72 229.60L410.45 228.16M422.00 211.55L423.44 212.99L424.89 215.16L426.33 218.05L427.05 221.66L427.05 224.55L426.33 228.16L424.89 231.04L423.44 233.21L422.00 234.65M423.44 212.99L424.89 215.88L425.61 218.05L426.33 221.66L426.33 224.55L425.61 228.16L424.89 230.32L423.44 233.21" fill="none" stroke="#f00" stroke-width="1.20" stroke-linecap="round" stroke-linejoin="round"/>
<path d="M562.91 353.05L563.86 350.12L563.86 355.98L562.91 353.05L561.02 351.10L558.18 350.12L555.34 350.12L552.49 351.10L550.60 353.05L550.60 355.00L551.55 356.95L552.49 357.93L554.39 358.90L560.07 360.85L561.96 361.83L563.86 363.78M550.60 355.00L552.49 356.95L554.39 357.93L560.07 359.88L561.96 360.85L562.91 361.83L563.86 363.78L563.86 367.68L561.96 369.62L559.12 370.60L556.28 370.60L553.44 369.62L551.55 367.68L550.60 364.75L550.60 370.60L551.55 367.68M570.49 362.80L581.85 362.80L581.85 360.85L580.90 358.90L579.96 357.93L578.06 356.95L575.22 356.95L572.38 357.93L570.49 359.88L569.54 362.80L569.54 364.75L570.49 367.68L572.38 369.62L575.22 370.60L577.12 370.60L579.96 369.62L581.85 367.68M580.90 362.80L580.90 359.88L579.96 357.93M575.22 356.95L573.33 357.93L571.43 359.88L570.49 362.80L570.49 364.75L571.43 367.68L573.33 369.62L575.22 370.60M598.90 356.95L598.90 377.43M599.84 356.95L599.84 377.43M598.90 359.88L597.00 357.93L595.11 356.95L593.22 356.95L590.37 357.93L588.48 359.88L587.53 362.80L587.53 364.75L588.48 367.68L590.37 369.62L593.22 370.60L595.11 370.60L597.00 369.62L598.90 367.68M593.22 356.95L591.32 357.93L589.43 359.88L588.48 362.80L588.48 364.75L589.43 367.68L591.32 369.62L593.22 370.60M596.06 377.43L602.69 377.43M608.37 356.95L608.37 367.68L609.31 369.62L612.15 370.60L614.05 370.60L616.89 369.62L618.78 367.68M609.31 356.95L609.31 367.68L610.26 369.62L612.15 370.60M618.78 356.95L618.78 370.60M619.73 356.95L619.73 370.60M605.53 356.95L609.31 356.95M615.94 356.95L619.73 356.95M618.78 370.60L622.57 370.60M628.25 362.80L639.62 362.80L639.62 360.85L638.67 358.90L637.72 357.93L635.83 356.95L632.99 356.95L630.15 357.93L628.25 359.88L627.31 362.80L627.31 364.75L628.25 367.68L630.15 369.62L632.99 370.60L634.88 370.60L637.72 369.62L639.62 367.68M638.67 362.80L638.67 359.88L637.72 357.93M632.99 356.95L631.10 357.93L629.20 359.88L628.25 362.80L628.25 364.75L629.20 367.68L631.10 369.62L632.99 370.60M647.19 356.95L647.19 370.60M648.14 356.95L648.14 370.60M648.14 359.88L650.03 357.93L652.88 356.95L654.77 356.95L657.61 357.93L658.56 359.88L658.56 370.60M654.77 356.95L656.66 357.93L657.61 359.88L657.61 370.60M644.35 356.95L648.14 356.95M644.35 370.60L650.98 370.60M654.77 370.60L661.40 370.60M677.50 359.88L676.55 360.85L677.50 361.83L678.45 360.85L678.45 359.88L676.55 357.93L674.66 356.95L671.82 356.95L668.98 357.93L667.08 359.88L666.13 362.80L666.13 364.75L667.08 367.68L668.98 369.62L671.82 370.60L673.71 370.60L676.55 369.62L678.45 367.68M671.82 356.95L669.92 357.93L668.03 359.88L667.08 362.80L667.08 364.75L668.03 367.68L669.92 369.62L671.82 370.60M685.07 362.80L696.44 362.80L696.44 360.85L695.49 358.90L694.54 357.93L692.65 356.95L689.81 356.95L686.97 357.93L685.07 359.88L684.13 362.80L684.13 364.75L685.07 367.68L686.97 369.62L689.81 370.60L691.70 370.60L694.54 369.62L696.44 367.68M695.49 362.80L695.49 359.88L694.54 357.93M689.81 356.95L687.91 357.93L686.02 359.88L685.07 362.80L685.07 364.75L686.02 367.68L687.91 369.62L689.81 370.60M720.11 354.03L722.01 353.05L724.85 350.12L724.85 370.60M723.90 351.10L723.90 370.60M720.11 370.60L728.64 370.60" fill="none" stroke="#000" stroke-width="1.20" stroke-linecap="round" stroke-linejoin="round"/>
<path d="M591.20 552.97L591.20 567.00M591.87 552.97L591.87 567.00M599.89 552.97L599.89 567.00M600.56 552.97L600.56 567.00M589.20 552.97L593.88 552.97M597.88 552.97L602.56 552.97M591.87 559.65L599.89 559.65M589.20 567.00L593.88 567.00M597.88 567.00L602.56 567.00M610.58 557.65L608.57 558.32L607.24 559.65L606.57 560.99L605.90 562.99L605.90 565.00L606.57 566.33L608.57 567.00L609.91 567.00L611.24 566.33L613.25 564.33L614.58 562.32L615.92 559.65L616.59 557.65M610.58 557.65L609.24 558.32L607.90 559.65L607.24 560.99L606.57 562.99L606.57 565.00L607.24 566.33L608.57 567.00M610.58 557.65L611.91 557.65L613.25 558.32L613.92 559.65L615.25 565.00L615.92 566.33L616.59 567.00M611.91 557.65L612.58 558.32L613.25 559.65L614.58 565.00L615.25 566.33L616.59 567.00L617.26 567.00M626.61 550.30L625.27 551.64L623.94 553.64L622.60 556.31L621.93 559.65L621.93 562.32L622.60 565.66L623.94 568.34L625.27 570.34L626.61 571.68M625.27 551.64L623.94 554.31L623.27 556.31L622.60 559.65L622.60 562.32L623.27 565.66L623.94 567.67L625.27 570.34M631.95 552.97L631.95 567.00M632.62 552.97L632.62 567.00M632.62 559.65L633.96 558.32L635.29 557.65L636.63 557.65L638.63 558.32L639.97 559.65L640.64 561.66L640.64 562.99L639.97 565.00L638.63 566.33L636.63 567.00L635.29 567.00L633.96 566.33L632.62 565.00M636.63 557.65L637.96 558.32L639.30 559.65L639.97 561.66L639.97 562.99L639.30 565.00L637.96 566.33L636.63 567.00M629.95 552.97L632.62 552.97M645.98 552.97L645.98 567.00M646.65 552.97L646.65 567.00M643.98 552.97L646.65 552.97M643.98 567.00L648.65 567.00M653.33 557.65L653.33 565.00L654.00 566.33L656.00 567.00L657.34 567.00L659.34 566.33L660.68 565.00M654.00 557.65L654.00 565.00L654.66 566.33L656.00 567.00M660.68 557.65L660.68 567.00M661.34 557.65L661.34 567.00M651.32 557.65L654.00 557.65M658.67 557.65L661.34 557.65M660.68 567.00L663.35 567.00M667.36 561.66L675.37 561.66L675.37 560.32L674.70 558.98L674.04 558.32L672.70 557.65L670.70 557.65L668.69 558.32L667.36 559.65L666.69 561.66L666.69 562.99L667.36 565.00L668.69 566.33L670.70 567.00L672.03 567.00L674.04 566.33L675.37 565.00M674.70 561.66L674.70 559.65L674.04 558.32M670.70 557.65L669.36 558.32L668.02 559.65L667.36 561.66L667.36 562.99L668.02 565.00L669.36 566.33L670.70 567.00M690.74 561.66L698.75 561.66L698.75 560.32L698.08 558.98L697.42 558.32L696.08 557.65L694.08 557.65L692.07 558.32L690.74 559.65L690.07 561.66L690.07 562.99L690.74 565.00L692.07 566.33L694.08 567.00L695.41 567.00L697.42 566.33L698.75 565.00M698.08 561.66L698.08 559.65L697.42 558.32M694.08 557.65L692.74 558.32L691.40 559.65L690.74 561.66L690.74 562.99L691.40 565.00L692.74 566.33L694.08 567.00M704.10 557.65L704.10 567.00M704.76 557.65L704.76 567.00M704.76 559.65L706.10 558.32L708.10 557.65L709.44 557.65L711.44 558.32L712.11 559.65L712.11 567.00M709.44 557.65L710.78 558.32L711.44 559.65L711.44 567.00M712.11 559.65L713.45 558.32L715.45 557.65L716.79 557.65L718.79 558.32L719.46 559.65L719.46 567.00M716.79 557.65L718.12 558.32L718.79 559.65L718.79 567.00M702.09 557.65L704.76 557.65M702.09 567.00L706.77 567.00M709.44 567.00L714.12 567.00M716.79 567.00L721.46 567.00M724.80 550.30L726.14 551.64L727.48 553.64L728.81 556.31L729.48 559.65L729.48 562.32L728.81 565.66L727.48 568.34L726.14 570.34L724.80 571.68M726.14 551.64L727.48 554.31L728.14 556.31L728.81 559.65L728.81 562.32L728.14 565.66L727.48 567.67L726.14 570.34" fill="none" stroke="#000" stroke-width="1.20" stroke-linecap="round" stroke-linejoin="round"/>
</svg>
</body></html>
